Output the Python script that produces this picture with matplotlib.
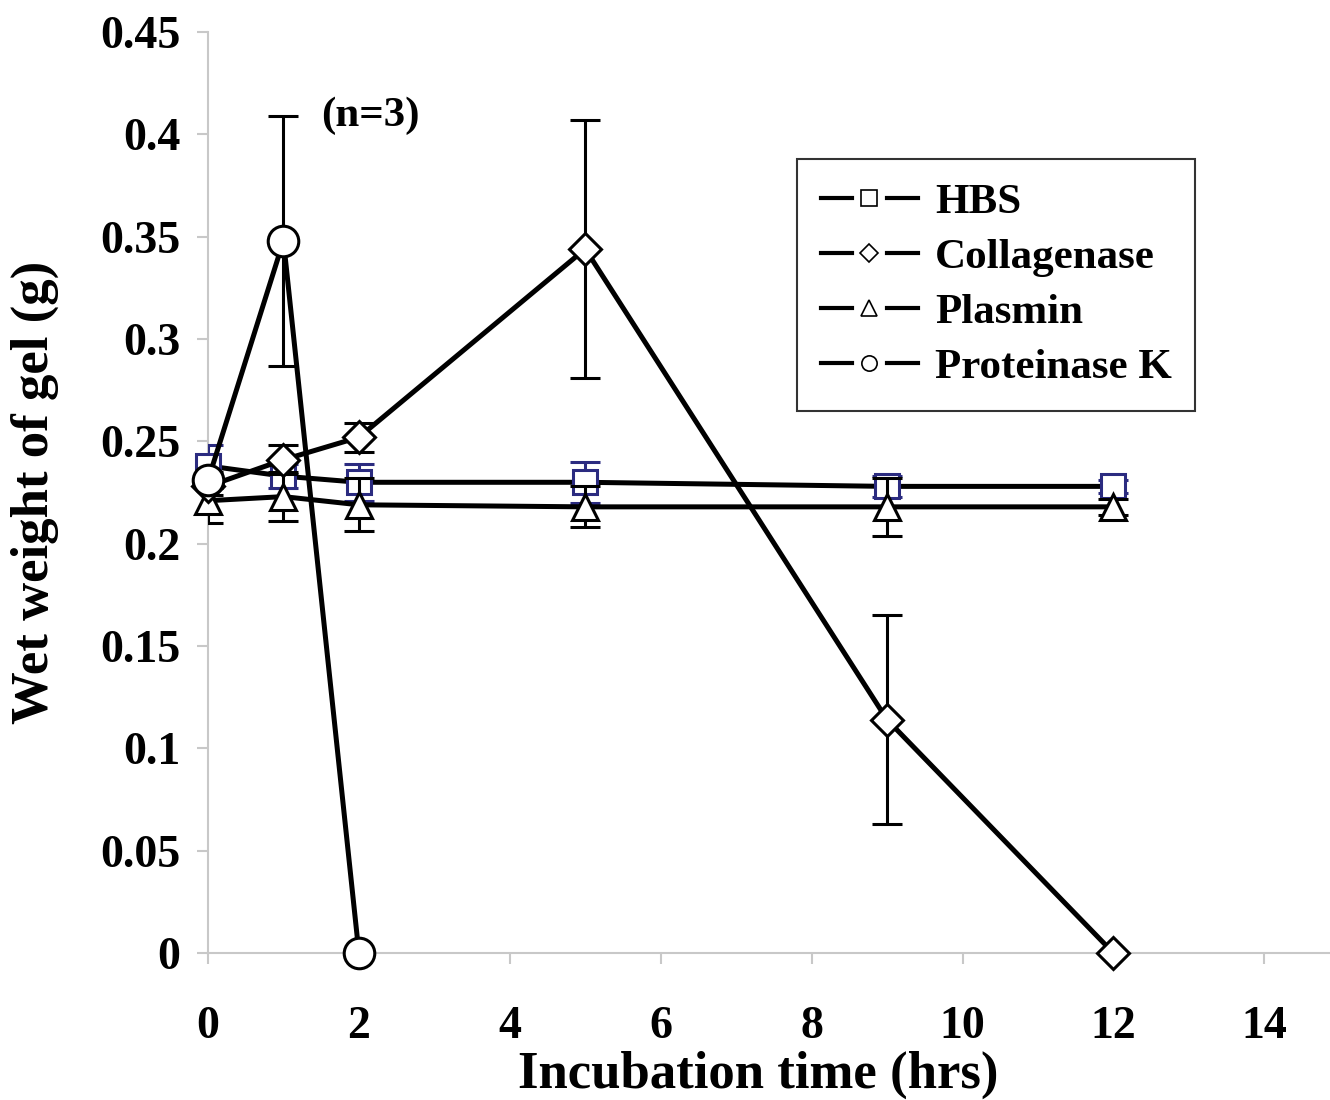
import matplotlib.pyplot as plt
import numpy as np
from matplotlib.lines import Line2D
from matplotlib.legend_handler import HandlerBase

# --- Data ---
hours = [0, 1, 2, 5, 9, 12]
hours_pk = [0, 1, 2]

hbs = [0.238, 0.233, 0.230, 0.230, 0.228, 0.228]
hbs_err = [0.010, 0.006, 0.009, 0.010, 0.005, 0.003]

collagenase = [0.228, 0.241, 0.252, 0.344, 0.114, 0.0]
collagenase_err = [0.004, 0.007, 0.007, 0.063, 0.051, 0.0]

plasmin = [0.221, 0.223, 0.219, 0.218, 0.218, 0.218]
plasmin_err = [0.011, 0.012, 0.013, 0.010, 0.014, 0.004]

proteinase_k = [0.231, 0.348, 0.0]
proteinase_k_err = [0.004, 0.061, 0.0]

legend_names = ['HBS', 'Collagenase', 'Plasmin', 'Proteinase K']
legend_markers = ['s', 'D', '^', 'o']

NAVY = '#2b2b80'
GRAY = '#c8c8c8'

plt.rcParams['font.family'] = 'Liberation Serif'
plt.rcParams['font.weight'] = 'bold'


# Excel-style legend key: line, gap, marker, gap, line
class SplitLineHandler(HandlerBase):
    def __init__(self, marker):
        super().__init__()
        self.marker = marker

    def create_artists(self, legend, orig_handle, xdescent, ydescent, width, height, fontsize, trans):
        y = height / 2 - ydescent
        x0 = -xdescent
        seg = width * 0.32
        l1 = Line2D([x0, x0 + seg], [y, y], color='black', lw=3.0)
        l2 = Line2D([x0 + width - seg, x0 + width], [y, y], color='black', lw=3.0)
        m = Line2D([x0 + width / 2], [y], marker=self.marker, markersize=11 if self.marker != 'D' else 9,
                   markerfacecolor='white', markeredgecolor='black', markeredgewidth=1.2, linestyle='none')
        for a in (l1, l2, m):
            a.set_transform(trans)
        return [l1, l2, m]


fig = plt.figure(figsize=(13.3, 11), dpi=100)
ax = fig.add_axes([0.1564, 0.1336, 0.8436, 0.8373])

common = dict(color='black', linewidth=3.6, markerfacecolor='white',
              markeredgewidth=2.2, elinewidth=2.2, capsize=11, capthick=2.2)

series = [
    (hours, hbs, hbs_err, 's', 17, NAVY, 3),
    (hours, plasmin, plasmin_err, '^', 19, 'black', 4),
    (hours, collagenase, collagenase_err, 'D', 16, 'black', 5),
    (hours_pk, proteinase_k, proteinase_k_err, 'o', 22, 'black', 6),
]
for xs, ys, err, mk, ms, ec, z in series:
    lines = ax.errorbar(xs, ys, yerr=err, marker=mk, markersize=ms,
                        markeredgecolor=ec, ecolor=ec, zorder=z, **common)
    lines[0].set_clip_on(False)

ax.set_xlim(0, 14.87)
ax.set_ylim(0, 0.45)
ax.set_xticks(np.arange(0, 15, 2))
ax.set_yticks(np.arange(0, 0.46, 0.05))
ax.set_yticklabels(['0', '0.05', '0.1', '0.15', '0.2', '0.25', '0.3', '0.35', '0.4', '0.45'])

for s in ['top', 'right']:
    ax.spines[s].set_visible(False)
for s in ['left', 'bottom']:
    ax.spines[s].set_color(GRAY)
    ax.spines[s].set_linewidth(1.5)
ax.tick_params(axis='both', colors=GRAY, length=8, width=1.5, direction='out',
               labelcolor='black', labelsize=33)
ax.tick_params(axis='x', pad=30)
ax.tick_params(axis='y', pad=12)
for lab in ax.get_xticklabels() + ax.get_yticklabels():
    lab.set_fontweight('bold')

ax.set_xlabel('Incubation time (hrs)', fontsize=38, fontweight='bold', va='center')
ax.xaxis.set_label_coords(0.490, -0.1325)
ax.set_ylabel('Wet weight of gel (g)', fontsize=38, fontweight='bold', va='center')
ax.yaxis.set_label_coords(-0.154, 0.5)

ax.text(2.15, 0.409, '(n=3)', fontsize=31, fontweight='bold', ha='center', va='center')

handles = [Line2D([], []) for _ in legend_names]
leg = ax.legend(handles, legend_names,
                handler_map={h: SplitLineHandler(m) for h, m in zip(handles, legend_markers)},
                loc='upper left', bbox_to_anchor=(0.525, 0.862), fontsize=31,
                handlelength=2.25, frameon=True, fancybox=False,
                edgecolor='black', borderpad=0.55, labelspacing=0.37, handletextpad=0.4,
                borderaxespad=0)
leg.get_frame().set_linewidth(1.5)

fig.savefig('out.png', dpi=100)
